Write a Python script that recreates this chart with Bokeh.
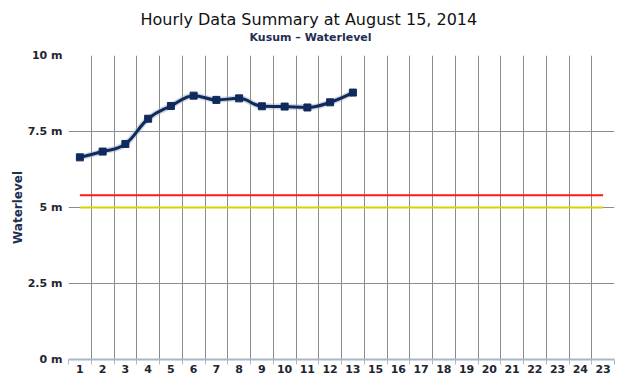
from bokeh.plotting import figure
from bokeh.models import FixedTicker, Range1d, Title, ColumnDataSource
from bokeh.embed import file_html
from bokeh.resources import INLINE

# ---- data ----
x_labels = ["1", "2", "3", "4", "5", "6", "7", "8", "9", "10", "11", "12", "13",
            "15", "16", "17", "18", "19", "20", "21", "22", "23", "24", "23"]
level_hours = [1, 2, 3, 4, 5, 6, 7, 8, 9, 10, 11, 12, 13]   # category positions
level_values = [6.65, 6.84, 7.09, 7.92, 8.34, 8.68, 8.54, 8.59, 8.33, 8.32, 8.29, 8.46, 8.78]
danger_level = 5.4
warning_level = 5.0
y_ticks = [0, 2.5, 5, 7.5, 10]
y_tick_labels = ["0 m", "2.5 m", "5 m", "7.5 m", "10 m"]

NAVY = "#0f2a5c"
LABEL = "#1e2533"
FONT = "DejaVu Sans"

n = len(x_labels)
centers = list(range(1, n + 1))
bounds = [c + 0.5 for c in centers]

p = figure(width=640, height=375, output_backend="svg", toolbar_location=None,
           x_range=Range1d(0.5, n + 0.5), y_range=Range1d(0, 10),
           min_border_left=68, min_border_right=26, min_border_top=55,
           min_border_bottom=0)
p.outline_line_color = None
p.background_fill_color = "white"
p.border_fill_color = "white"

# titles
p.add_layout(Title(text="Kusum \u2013 Waterlevel", text_font=FONT, text_font_size="11px",
                   text_font_style="bold", text_color="#1f2f52", align="left",
                   offset=181, standoff=24), "above")
p.add_layout(Title(text="Hourly Data Summary at August 15, 2014", text_font=FONT,
                   text_font_size="16px", text_font_style="normal", text_color="#111111",
                   align="left", offset=72, standoff=-24), "above")

# x axis
xa = p.xaxis[0]
xa.ticker = FixedTicker(ticks=centers, minor_ticks=[0.5] + bounds)
xa.major_label_overrides = {c: lab for c, lab in zip(centers, x_labels)}
xa.major_tick_out = 0
xa.major_tick_in = 0
xa.minor_tick_out = 5
xa.minor_tick_in = 0
xa.minor_tick_line_color = "#a9b8c8"
xa.axis_line_color = "#a9b8c8"
xa.axis_line_width = 2
xa.major_label_standoff = 0
xa.major_label_text_font = FONT
xa.major_label_text_font_size = "11px"
xa.major_label_text_font_style = "bold"
xa.major_label_text_color = LABEL

# y axis
ya = p.yaxis[0]
ya.ticker = FixedTicker(ticks=y_ticks)
ya.major_label_overrides = {t: lab for t, lab in zip(y_ticks, y_tick_labels)}
ya.axis_line_color = None
ya.major_tick_line_color = None
ya.minor_tick_line_color = None
ya.major_tick_out = 0
ya.major_tick_in = 0
ya.minor_tick_out = 0
ya.minor_tick_in = 0
ya.major_label_standoff = 6
ya.major_label_text_font = FONT
ya.major_label_text_font_size = "11px"
ya.major_label_text_font_style = "bold"
ya.major_label_text_color = LABEL
ya.axis_label = "Waterlevel"
ya.axis_label_text_font = FONT
ya.axis_label_text_font_size = "12px"
ya.axis_label_text_font_style = "bold"
ya.axis_label_text_color = "#1f2f52"
ya.axis_label_standoff = 0

# grids
p.xgrid.ticker = FixedTicker(ticks=bounds)
p.xgrid.grid_line_color = "#8c8c8c"
p.xgrid.grid_line_width = 1
p.ygrid.ticker = FixedTicker(ticks=y_ticks)
p.ygrid.grid_line_color = "#8c8c8c"
p.ygrid.grid_line_width = 1

# threshold lines
p.line([centers[0], centers[-1]], [danger_level, danger_level], line_color="#ff1a1a", line_width=2)
p.line([centers[0], centers[-1]], [warning_level, warning_level], line_color="#d4d400", line_width=2)

# spline (Highcharts-style smoothing) built from the data points
sm, den = 1.5, 2.5
xs, ys = level_hours, level_values
m = len(xs)
lcx, lcy, rcx, rcy = list(xs), list(ys), list(xs), list(ys)
for i in range(1, m - 1):
    lx = (sm * xs[i] + xs[i - 1]) / den
    ly = (sm * ys[i] + ys[i - 1]) / den
    rx = (sm * xs[i] + xs[i + 1]) / den
    ry = (sm * ys[i] + ys[i + 1]) / den
    corr = (ry - ly) * (rx - xs[i]) / (rx - lx) + ys[i] - ry
    ly += corr
    ry += corr
    if ly > ys[i - 1] and ly > ys[i]:
        ly = max(ys[i - 1], ys[i]); ry = 2 * ys[i] - ly
    elif ly < ys[i - 1] and ly < ys[i]:
        ly = min(ys[i - 1], ys[i]); ry = 2 * ys[i] - ly
    if ry > ys[i + 1] and ry > ys[i]:
        ry = max(ys[i + 1], ys[i]); ly = 2 * ys[i] - ry
    elif ry < ys[i + 1] and ry < ys[i]:
        ry = min(ys[i + 1], ys[i]); ly = 2 * ys[i] - ry
    lcx[i], lcy[i], rcx[i], rcy[i] = lx, ly, rx, ry

seg = ColumnDataSource(dict(
    x0=xs[:-1], y0=ys[:-1], x1=xs[1:], y1=ys[1:],
    cx0=rcx[:-1], cy0=rcy[:-1], cx1=lcx[1:], cy1=lcy[1:]))
p.bezier(x0="x0", y0="y0", x1="x1", y1="y1", cx0="cx0", cy0="cy0", cx1="cx1", cy1="cy1",
         source=seg, line_color="#9aa6b8", line_width=6, line_alpha=0.45)
p.bezier(x0="x0", y0="y0", x1="x1", y1="y1", cx0="cx0", cy0="cy0", cx1="cx1", cy1="cy1",
         source=seg, line_color=NAVY, line_width=3)
p.scatter(xs, ys, marker="square", size=7, fill_color=NAVY, line_color=NAVY)

open("out.html", "w").write(file_html(p, INLINE))
